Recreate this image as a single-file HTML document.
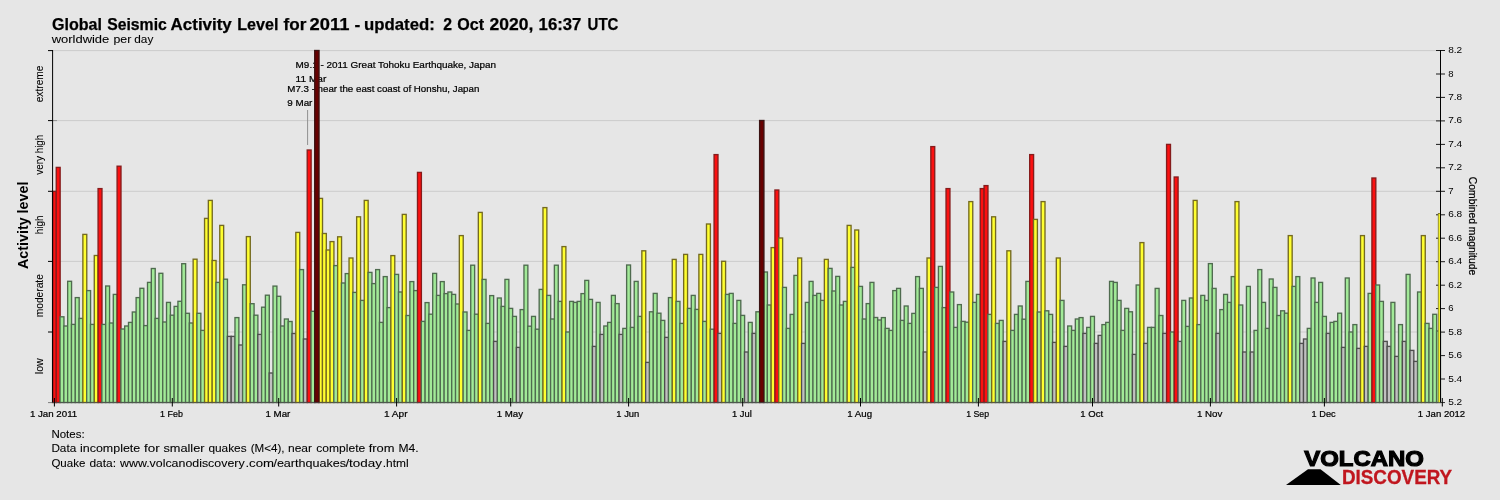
<!DOCTYPE html>
<html lang="en"><head><meta charset="utf-8"><title>Global Seismic Activity Level for 2011</title>
<style>html,body{margin:0;padding:0;background:#e6e6e6;overflow:hidden}svg{display:block}text{font-family:"Liberation Sans",sans-serif;fill:#000}.s{font-size:9.2px;stroke:#000;stroke-width:.22px}.n{font-size:10.4px;stroke:#000;stroke-width:.07px}.t{font-size:9.6px}.l{font-size:11.6px;stroke:#000;stroke-width:.08px}</style></head><body>
<svg width="1500" height="500" viewBox="0 0 1500 500">
<rect width="1500" height="500" fill="#e6e6e6"/>
<g stroke="#cccccc" stroke-width="1">
<line x1="53" y1="50.6" x2="1440" y2="50.6"/>
<line x1="53" y1="120.6" x2="1440" y2="120.6"/>
<line x1="53" y1="191.3" x2="1440" y2="191.3"/>
<line x1="53" y1="261.4" x2="1440" y2="261.4"/>
<line x1="53" y1="332.0" x2="1440" y2="332.0"/>
</g>
<g stroke="#909090" stroke-width="1">
<line x1="53" y1="120.6" x2="57" y2="120.6"/>
<line x1="53" y1="191.3" x2="57" y2="191.3"/>
<line x1="53" y1="261.4" x2="57" y2="261.4"/>
<line x1="53" y1="332.0" x2="57" y2="332.0"/>
</g>
<g stroke="#1a1a1a" stroke-width="1">
<line x1="1436" y1="50.5" x2="1445" y2="50.5"/>
<line x1="1436" y1="74.0" x2="1445" y2="74.0"/>
<line x1="1436" y1="97.4" x2="1445" y2="97.4"/>
<line x1="1436" y1="120.9" x2="1445" y2="120.9"/>
<line x1="1436" y1="144.4" x2="1445" y2="144.4"/>
<line x1="1436" y1="167.8" x2="1445" y2="167.8"/>
<line x1="1436" y1="191.3" x2="1445" y2="191.3"/>
<line x1="1436" y1="214.8" x2="1445" y2="214.8"/>
<line x1="1436" y1="238.2" x2="1445" y2="238.2"/>
<line x1="1436" y1="261.7" x2="1445" y2="261.7"/>
<line x1="1436" y1="285.2" x2="1445" y2="285.2"/>
<line x1="1436" y1="308.6" x2="1445" y2="308.6"/>
<line x1="1436" y1="332.1" x2="1445" y2="332.1"/>
<line x1="1436" y1="355.6" x2="1445" y2="355.6"/>
<line x1="1436" y1="379.0" x2="1445" y2="379.0"/>
<line x1="1436" y1="402.5" x2="1445" y2="402.5"/>
</g>
<g font-size="16.8" font-weight="bold" stroke="#000" stroke-width="0.25">
<text x="52.0" y="30" textLength="50.0" lengthAdjust="spacingAndGlyphs">Global</text>
<text x="107.2" y="30" textLength="59.6" lengthAdjust="spacingAndGlyphs">Seismic</text>
<text x="170.6" y="30" textLength="61.2" lengthAdjust="spacingAndGlyphs">Activity</text>
<text x="237.2" y="30" textLength="41.2" lengthAdjust="spacingAndGlyphs">Level</text>
<text x="283.6" y="30" textLength="22.8" lengthAdjust="spacingAndGlyphs">for</text>
<text x="309.6" y="30" textLength="39.8" lengthAdjust="spacingAndGlyphs">2011</text>
<text x="354.6" y="30" textLength="5.8" lengthAdjust="spacingAndGlyphs">-</text>
<text x="364.0" y="30" textLength="70.8" lengthAdjust="spacingAndGlyphs">updated:</text>
<text x="443.2" y="30" textLength="8.8" lengthAdjust="spacingAndGlyphs">2</text>
<text x="457.2" y="30" textLength="26.8" lengthAdjust="spacingAndGlyphs">Oct</text>
<text x="489.6" y="30" textLength="43.8" lengthAdjust="spacingAndGlyphs">2020,</text>
<text x="538.6" y="30" textLength="42.8" lengthAdjust="spacingAndGlyphs">16:37</text>
<text x="587.6" y="30" textLength="30.8" lengthAdjust="spacingAndGlyphs">UTC</text>
</g>
<text class="l" x="51.7" y="42.8" textLength="57.6" lengthAdjust="spacingAndGlyphs">worldwide</text>
<text class="l" x="113.5" y="42.8" textLength="17.8" lengthAdjust="spacingAndGlyphs">per</text>
<text class="l" x="134.3" y="42.8" textLength="19.0" lengthAdjust="spacingAndGlyphs">day</text>
<text class="s" x="295.6" y="67.6" textLength="200.5" lengthAdjust="spacingAndGlyphs">M9.1 - 2011 Great Tohoku Earthquake, Japan</text>
<text class="s" x="295.6" y="81.5" textLength="30.7" lengthAdjust="spacingAndGlyphs">11 Mar</text>
<text class="s" x="287.3" y="91.6" textLength="192" lengthAdjust="spacingAndGlyphs">M7.3 - near the east coast of Honshu, Japan</text>
<text class="s" x="287.3" y="105.7" textLength="25.1" lengthAdjust="spacingAndGlyphs">9 Mar</text>
<line x1="307.6" y1="110" x2="307.6" y2="145" stroke="#909090" stroke-width="1"/>
<g stroke-width="1.35">
<rect x="52.60" y="191.4" width="3.75" height="211.1" fill="#fc1010" stroke="#861c1c"/>
<rect x="56.25" y="167.4" width="3.90" height="235.1" fill="#fc1010" stroke="#861c1c"/>
<rect x="60.05" y="316.8" width="3.90" height="85.7" fill="#a2ea98" stroke="#4f6b4f"/>
<rect x="63.86" y="326.0" width="3.90" height="76.5" fill="#a2ea98" stroke="#4f6b4f"/>
<rect x="67.66" y="281.3" width="3.90" height="121.2" fill="#a2ea98" stroke="#4f6b4f"/>
<rect x="71.46" y="324.4" width="3.90" height="78.1" fill="#a2ea98" stroke="#4f6b4f"/>
<rect x="75.27" y="297.6" width="3.90" height="104.9" fill="#a2ea98" stroke="#4f6b4f"/>
<rect x="79.07" y="318.4" width="3.90" height="84.1" fill="#a2ea98" stroke="#4f6b4f"/>
<rect x="82.87" y="234.4" width="3.90" height="168.1" fill="#ffff30" stroke="#746a20"/>
<rect x="86.67" y="290.6" width="3.90" height="111.9" fill="#a2ea98" stroke="#4f6b4f"/>
<rect x="90.48" y="324.4" width="3.90" height="78.1" fill="#a2ea98" stroke="#4f6b4f"/>
<rect x="94.28" y="255.5" width="3.90" height="147.0" fill="#ffff30" stroke="#746a20"/>
<rect x="98.08" y="188.6" width="3.90" height="213.9" fill="#fc1010" stroke="#861c1c"/>
<rect x="101.88" y="324.4" width="3.90" height="78.1" fill="#a2ea98" stroke="#4f6b4f"/>
<rect x="105.68" y="286.0" width="3.90" height="116.5" fill="#a2ea98" stroke="#4f6b4f"/>
<rect x="109.49" y="323.0" width="3.90" height="79.5" fill="#a2ea98" stroke="#4f6b4f"/>
<rect x="113.29" y="294.4" width="3.90" height="108.1" fill="#a2ea98" stroke="#4f6b4f"/>
<rect x="117.09" y="166.2" width="3.90" height="236.3" fill="#fc1010" stroke="#861c1c"/>
<rect x="120.89" y="329.0" width="3.90" height="73.5" fill="#a2ea98" stroke="#4f6b4f"/>
<rect x="124.70" y="326.0" width="3.90" height="76.5" fill="#a2ea98" stroke="#4f6b4f"/>
<rect x="128.50" y="322.4" width="3.90" height="80.1" fill="#a2ea98" stroke="#4f6b4f"/>
<rect x="132.30" y="312.0" width="3.90" height="90.5" fill="#a2ea98" stroke="#4f6b4f"/>
<rect x="136.11" y="297.6" width="3.90" height="104.9" fill="#a2ea98" stroke="#4f6b4f"/>
<rect x="139.91" y="288.3" width="3.90" height="114.2" fill="#a2ea98" stroke="#4f6b4f"/>
<rect x="143.71" y="325.6" width="3.90" height="76.9" fill="#a2ea98" stroke="#4f6b4f"/>
<rect x="147.51" y="282.4" width="3.90" height="120.1" fill="#a2ea98" stroke="#4f6b4f"/>
<rect x="151.32" y="268.5" width="3.90" height="134.0" fill="#a2ea98" stroke="#4f6b4f"/>
<rect x="155.12" y="318.4" width="3.90" height="84.1" fill="#a2ea98" stroke="#4f6b4f"/>
<rect x="158.92" y="273.3" width="3.90" height="129.2" fill="#a2ea98" stroke="#4f6b4f"/>
<rect x="162.72" y="322.0" width="3.90" height="80.5" fill="#a2ea98" stroke="#4f6b4f"/>
<rect x="166.53" y="302.4" width="3.90" height="100.1" fill="#a2ea98" stroke="#4f6b4f"/>
<rect x="170.33" y="315.2" width="3.90" height="87.3" fill="#a2ea98" stroke="#4f6b4f"/>
<rect x="174.13" y="306.4" width="3.90" height="96.1" fill="#a2ea98" stroke="#4f6b4f"/>
<rect x="177.93" y="301.3" width="3.90" height="101.2" fill="#a2ea98" stroke="#4f6b4f"/>
<rect x="181.74" y="263.7" width="3.90" height="138.8" fill="#a2ea98" stroke="#4f6b4f"/>
<rect x="185.54" y="313.3" width="3.90" height="89.2" fill="#a2ea98" stroke="#4f6b4f"/>
<rect x="189.34" y="323.0" width="3.90" height="79.5" fill="#a2ea98" stroke="#4f6b4f"/>
<rect x="193.14" y="259.2" width="3.90" height="143.3" fill="#ffff30" stroke="#746a20"/>
<rect x="196.95" y="313.3" width="3.90" height="89.2" fill="#a2ea98" stroke="#4f6b4f"/>
<rect x="200.75" y="330.4" width="3.90" height="72.1" fill="#a2ea98" stroke="#4f6b4f"/>
<rect x="204.55" y="218.4" width="3.90" height="184.1" fill="#ffff30" stroke="#746a20"/>
<rect x="208.35" y="200.4" width="3.90" height="202.1" fill="#ffff30" stroke="#746a20"/>
<rect x="212.16" y="260.5" width="3.90" height="142.0" fill="#ffff30" stroke="#746a20"/>
<rect x="215.96" y="282.4" width="3.90" height="120.1" fill="#a2ea98" stroke="#4f6b4f"/>
<rect x="219.76" y="225.4" width="3.90" height="177.1" fill="#ffff30" stroke="#746a20"/>
<rect x="223.56" y="279.2" width="3.90" height="123.3" fill="#a2ea98" stroke="#4f6b4f"/>
<rect x="227.37" y="336.4" width="3.90" height="66.1" fill="#c0c0c0" stroke="#4e4e4e"/>
<rect x="231.17" y="336.4" width="3.90" height="66.1" fill="#c0c0c0" stroke="#4e4e4e"/>
<rect x="234.97" y="317.6" width="3.90" height="84.9" fill="#a2ea98" stroke="#4f6b4f"/>
<rect x="238.77" y="345.0" width="3.90" height="57.5" fill="#c0c0c0" stroke="#4e4e4e"/>
<rect x="242.58" y="284.8" width="3.90" height="117.7" fill="#a2ea98" stroke="#4f6b4f"/>
<rect x="246.38" y="236.6" width="3.90" height="165.9" fill="#ffff30" stroke="#746a20"/>
<rect x="250.18" y="303.7" width="3.90" height="98.8" fill="#a2ea98" stroke="#4f6b4f"/>
<rect x="253.98" y="315.2" width="3.90" height="87.3" fill="#a2ea98" stroke="#4f6b4f"/>
<rect x="257.79" y="334.4" width="3.90" height="68.1" fill="#c0c0c0" stroke="#4e4e4e"/>
<rect x="261.59" y="307.2" width="3.90" height="95.3" fill="#a2ea98" stroke="#4f6b4f"/>
<rect x="265.39" y="295.2" width="3.90" height="107.3" fill="#a2ea98" stroke="#4f6b4f"/>
<rect x="269.19" y="373.0" width="3.90" height="29.5" fill="#c0c0c0" stroke="#4e4e4e"/>
<rect x="273.00" y="286.1" width="3.90" height="116.4" fill="#a2ea98" stroke="#4f6b4f"/>
<rect x="276.80" y="296.3" width="3.90" height="106.2" fill="#a2ea98" stroke="#4f6b4f"/>
<rect x="280.60" y="326.0" width="3.90" height="76.5" fill="#a2ea98" stroke="#4f6b4f"/>
<rect x="284.40" y="319.0" width="3.90" height="83.5" fill="#a2ea98" stroke="#4f6b4f"/>
<rect x="288.21" y="321.5" width="3.90" height="81.0" fill="#a2ea98" stroke="#4f6b4f"/>
<rect x="292.01" y="333.5" width="3.90" height="69.0" fill="#c0c0c0" stroke="#4e4e4e"/>
<rect x="295.81" y="232.4" width="3.90" height="170.1" fill="#ffff30" stroke="#746a20"/>
<rect x="299.61" y="269.6" width="3.90" height="132.9" fill="#a2ea98" stroke="#4f6b4f"/>
<rect x="303.42" y="339.0" width="3.90" height="63.5" fill="#c0c0c0" stroke="#4e4e4e"/>
<rect x="307.22" y="150.0" width="3.90" height="252.5" fill="#fc1010" stroke="#861c1c"/>
<rect x="311.02" y="311.3" width="3.90" height="91.2" fill="#a2ea98" stroke="#4f6b4f"/>
<rect x="318.62" y="198.4" width="3.90" height="204.1" fill="#ffff30" stroke="#746a20"/>
<rect x="322.43" y="233.5" width="3.90" height="169.0" fill="#ffff30" stroke="#746a20"/>
<rect x="326.23" y="250.0" width="3.90" height="152.5" fill="#ffff30" stroke="#746a20"/>
<rect x="330.03" y="241.6" width="3.90" height="160.9" fill="#ffff30" stroke="#746a20"/>
<rect x="333.83" y="265.6" width="3.90" height="136.9" fill="#a2ea98" stroke="#4f6b4f"/>
<rect x="337.64" y="236.8" width="3.90" height="165.7" fill="#ffff30" stroke="#746a20"/>
<rect x="341.44" y="283.0" width="3.90" height="119.5" fill="#a2ea98" stroke="#4f6b4f"/>
<rect x="345.24" y="273.6" width="3.90" height="128.9" fill="#a2ea98" stroke="#4f6b4f"/>
<rect x="349.05" y="258.0" width="3.90" height="144.5" fill="#ffff30" stroke="#746a20"/>
<rect x="352.85" y="292.4" width="3.90" height="110.1" fill="#a2ea98" stroke="#4f6b4f"/>
<rect x="356.65" y="216.8" width="3.90" height="185.7" fill="#ffff30" stroke="#746a20"/>
<rect x="360.45" y="300.4" width="3.90" height="102.1" fill="#a2ea98" stroke="#4f6b4f"/>
<rect x="364.25" y="200.4" width="3.90" height="202.1" fill="#ffff30" stroke="#746a20"/>
<rect x="368.06" y="272.4" width="3.90" height="130.1" fill="#a2ea98" stroke="#4f6b4f"/>
<rect x="371.86" y="283.6" width="3.90" height="118.9" fill="#a2ea98" stroke="#4f6b4f"/>
<rect x="375.66" y="269.6" width="3.90" height="132.9" fill="#a2ea98" stroke="#4f6b4f"/>
<rect x="379.47" y="322.4" width="3.90" height="80.1" fill="#a2ea98" stroke="#4f6b4f"/>
<rect x="383.27" y="276.6" width="3.90" height="125.9" fill="#a2ea98" stroke="#4f6b4f"/>
<rect x="387.07" y="307.6" width="3.90" height="94.9" fill="#a2ea98" stroke="#4f6b4f"/>
<rect x="390.87" y="255.6" width="3.90" height="146.9" fill="#ffff30" stroke="#746a20"/>
<rect x="394.68" y="274.4" width="3.90" height="128.1" fill="#a2ea98" stroke="#4f6b4f"/>
<rect x="398.48" y="292.0" width="3.90" height="110.5" fill="#a2ea98" stroke="#4f6b4f"/>
<rect x="402.28" y="214.4" width="3.90" height="188.1" fill="#ffff30" stroke="#746a20"/>
<rect x="406.08" y="315.5" width="3.90" height="87.0" fill="#a2ea98" stroke="#4f6b4f"/>
<rect x="409.88" y="281.6" width="3.90" height="120.9" fill="#a2ea98" stroke="#4f6b4f"/>
<rect x="413.69" y="290.6" width="3.90" height="111.9" fill="#a2ea98" stroke="#4f6b4f"/>
<rect x="417.49" y="172.4" width="3.90" height="230.1" fill="#fc1010" stroke="#861c1c"/>
<rect x="421.29" y="321.4" width="3.90" height="81.1" fill="#a2ea98" stroke="#4f6b4f"/>
<rect x="425.10" y="302.6" width="3.90" height="99.9" fill="#a2ea98" stroke="#4f6b4f"/>
<rect x="428.90" y="314.2" width="3.90" height="88.3" fill="#a2ea98" stroke="#4f6b4f"/>
<rect x="432.70" y="273.4" width="3.90" height="129.1" fill="#a2ea98" stroke="#4f6b4f"/>
<rect x="436.50" y="295.4" width="3.90" height="107.1" fill="#a2ea98" stroke="#4f6b4f"/>
<rect x="440.31" y="281.6" width="3.90" height="120.9" fill="#a2ea98" stroke="#4f6b4f"/>
<rect x="444.11" y="293.6" width="3.90" height="108.9" fill="#a2ea98" stroke="#4f6b4f"/>
<rect x="447.91" y="292.0" width="3.90" height="110.5" fill="#a2ea98" stroke="#4f6b4f"/>
<rect x="451.71" y="294.4" width="3.90" height="108.1" fill="#a2ea98" stroke="#4f6b4f"/>
<rect x="455.51" y="304.0" width="3.90" height="98.5" fill="#a2ea98" stroke="#4f6b4f"/>
<rect x="459.32" y="235.6" width="3.90" height="166.9" fill="#ffff30" stroke="#746a20"/>
<rect x="463.12" y="312.0" width="3.90" height="90.5" fill="#a2ea98" stroke="#4f6b4f"/>
<rect x="466.92" y="330.4" width="3.90" height="72.1" fill="#a2ea98" stroke="#4f6b4f"/>
<rect x="470.73" y="265.2" width="3.90" height="137.3" fill="#a2ea98" stroke="#4f6b4f"/>
<rect x="474.53" y="314.2" width="3.90" height="88.3" fill="#a2ea98" stroke="#4f6b4f"/>
<rect x="478.33" y="212.4" width="3.90" height="190.1" fill="#ffff30" stroke="#746a20"/>
<rect x="482.13" y="279.4" width="3.90" height="123.1" fill="#a2ea98" stroke="#4f6b4f"/>
<rect x="485.94" y="323.4" width="3.90" height="79.1" fill="#a2ea98" stroke="#4f6b4f"/>
<rect x="489.74" y="295.6" width="3.90" height="106.9" fill="#a2ea98" stroke="#4f6b4f"/>
<rect x="493.54" y="341.4" width="3.90" height="61.1" fill="#c0c0c0" stroke="#4e4e4e"/>
<rect x="497.34" y="298.0" width="3.90" height="104.5" fill="#a2ea98" stroke="#4f6b4f"/>
<rect x="501.15" y="306.4" width="3.90" height="96.1" fill="#a2ea98" stroke="#4f6b4f"/>
<rect x="504.95" y="279.4" width="3.90" height="123.1" fill="#a2ea98" stroke="#4f6b4f"/>
<rect x="508.75" y="308.4" width="3.90" height="94.1" fill="#a2ea98" stroke="#4f6b4f"/>
<rect x="512.55" y="316.4" width="3.90" height="86.1" fill="#a2ea98" stroke="#4f6b4f"/>
<rect x="516.36" y="347.4" width="3.90" height="55.1" fill="#c0c0c0" stroke="#4e4e4e"/>
<rect x="520.16" y="309.6" width="3.90" height="92.9" fill="#a2ea98" stroke="#4f6b4f"/>
<rect x="523.96" y="265.2" width="3.90" height="137.3" fill="#a2ea98" stroke="#4f6b4f"/>
<rect x="527.76" y="326.2" width="3.90" height="76.3" fill="#a2ea98" stroke="#4f6b4f"/>
<rect x="531.56" y="316.4" width="3.90" height="86.1" fill="#a2ea98" stroke="#4f6b4f"/>
<rect x="535.37" y="329.2" width="3.90" height="73.3" fill="#a2ea98" stroke="#4f6b4f"/>
<rect x="539.17" y="289.4" width="3.90" height="113.1" fill="#a2ea98" stroke="#4f6b4f"/>
<rect x="542.97" y="207.6" width="3.90" height="194.9" fill="#ffff30" stroke="#746a20"/>
<rect x="546.77" y="295.4" width="3.90" height="107.1" fill="#a2ea98" stroke="#4f6b4f"/>
<rect x="550.58" y="319.0" width="3.90" height="83.5" fill="#a2ea98" stroke="#4f6b4f"/>
<rect x="554.38" y="265.2" width="3.90" height="137.3" fill="#a2ea98" stroke="#4f6b4f"/>
<rect x="558.18" y="301.4" width="3.90" height="101.1" fill="#a2ea98" stroke="#4f6b4f"/>
<rect x="561.99" y="246.6" width="3.90" height="155.9" fill="#ffff30" stroke="#746a20"/>
<rect x="565.79" y="332.0" width="3.90" height="70.5" fill="#a2ea98" stroke="#4f6b4f"/>
<rect x="569.59" y="301.4" width="3.90" height="101.1" fill="#a2ea98" stroke="#4f6b4f"/>
<rect x="573.39" y="302.4" width="3.90" height="100.1" fill="#a2ea98" stroke="#4f6b4f"/>
<rect x="577.19" y="301.4" width="3.90" height="101.1" fill="#a2ea98" stroke="#4f6b4f"/>
<rect x="581.00" y="293.6" width="3.90" height="108.9" fill="#a2ea98" stroke="#4f6b4f"/>
<rect x="584.80" y="280.4" width="3.90" height="122.1" fill="#a2ea98" stroke="#4f6b4f"/>
<rect x="588.60" y="299.4" width="3.90" height="103.1" fill="#a2ea98" stroke="#4f6b4f"/>
<rect x="592.40" y="346.4" width="3.90" height="56.1" fill="#c0c0c0" stroke="#4e4e4e"/>
<rect x="596.21" y="302.4" width="3.90" height="100.1" fill="#a2ea98" stroke="#4f6b4f"/>
<rect x="600.01" y="334.4" width="3.90" height="68.1" fill="#c0c0c0" stroke="#4e4e4e"/>
<rect x="603.81" y="326.0" width="3.90" height="76.5" fill="#a2ea98" stroke="#4f6b4f"/>
<rect x="607.62" y="322.4" width="3.90" height="80.1" fill="#a2ea98" stroke="#4f6b4f"/>
<rect x="611.42" y="295.4" width="3.90" height="107.1" fill="#a2ea98" stroke="#4f6b4f"/>
<rect x="615.22" y="303.6" width="3.90" height="98.9" fill="#a2ea98" stroke="#4f6b4f"/>
<rect x="619.02" y="334.4" width="3.90" height="68.1" fill="#c0c0c0" stroke="#4e4e4e"/>
<rect x="622.82" y="328.4" width="3.90" height="74.1" fill="#a2ea98" stroke="#4f6b4f"/>
<rect x="626.63" y="265.0" width="3.90" height="137.5" fill="#a2ea98" stroke="#4f6b4f"/>
<rect x="630.43" y="327.4" width="3.90" height="75.1" fill="#a2ea98" stroke="#4f6b4f"/>
<rect x="634.23" y="281.4" width="3.90" height="121.1" fill="#a2ea98" stroke="#4f6b4f"/>
<rect x="638.03" y="316.4" width="3.90" height="86.1" fill="#a2ea98" stroke="#4f6b4f"/>
<rect x="641.84" y="250.8" width="3.90" height="151.7" fill="#ffff30" stroke="#746a20"/>
<rect x="645.64" y="362.4" width="3.90" height="40.1" fill="#c0c0c0" stroke="#4e4e4e"/>
<rect x="649.44" y="311.8" width="3.90" height="90.7" fill="#a2ea98" stroke="#4f6b4f"/>
<rect x="653.25" y="293.4" width="3.90" height="109.1" fill="#a2ea98" stroke="#4f6b4f"/>
<rect x="657.05" y="313.2" width="3.90" height="89.3" fill="#a2ea98" stroke="#4f6b4f"/>
<rect x="660.85" y="320.4" width="3.90" height="82.1" fill="#a2ea98" stroke="#4f6b4f"/>
<rect x="664.65" y="337.4" width="3.90" height="65.1" fill="#c0c0c0" stroke="#4e4e4e"/>
<rect x="668.45" y="297.6" width="3.90" height="104.9" fill="#a2ea98" stroke="#4f6b4f"/>
<rect x="672.26" y="259.4" width="3.90" height="143.1" fill="#ffff30" stroke="#746a20"/>
<rect x="676.06" y="301.4" width="3.90" height="101.1" fill="#a2ea98" stroke="#4f6b4f"/>
<rect x="679.86" y="323.4" width="3.90" height="79.1" fill="#a2ea98" stroke="#4f6b4f"/>
<rect x="683.66" y="254.4" width="3.90" height="148.1" fill="#ffff30" stroke="#746a20"/>
<rect x="687.47" y="308.4" width="3.90" height="94.1" fill="#a2ea98" stroke="#4f6b4f"/>
<rect x="691.27" y="295.4" width="3.90" height="107.1" fill="#a2ea98" stroke="#4f6b4f"/>
<rect x="695.07" y="309.4" width="3.90" height="93.1" fill="#a2ea98" stroke="#4f6b4f"/>
<rect x="698.88" y="254.4" width="3.90" height="148.1" fill="#ffff30" stroke="#746a20"/>
<rect x="702.68" y="321.4" width="3.90" height="81.1" fill="#a2ea98" stroke="#4f6b4f"/>
<rect x="706.48" y="224.0" width="3.90" height="178.5" fill="#ffff30" stroke="#746a20"/>
<rect x="710.28" y="329.2" width="3.90" height="73.3" fill="#a2ea98" stroke="#4f6b4f"/>
<rect x="714.08" y="154.6" width="3.90" height="247.9" fill="#fc1010" stroke="#861c1c"/>
<rect x="717.89" y="333.4" width="3.90" height="69.1" fill="#c0c0c0" stroke="#4e4e4e"/>
<rect x="721.69" y="261.3" width="3.90" height="141.2" fill="#ffff30" stroke="#746a20"/>
<rect x="725.49" y="294.4" width="3.90" height="108.1" fill="#a2ea98" stroke="#4f6b4f"/>
<rect x="729.29" y="293.4" width="3.90" height="109.1" fill="#a2ea98" stroke="#4f6b4f"/>
<rect x="733.10" y="323.4" width="3.90" height="79.1" fill="#a2ea98" stroke="#4f6b4f"/>
<rect x="736.90" y="300.4" width="3.90" height="102.1" fill="#a2ea98" stroke="#4f6b4f"/>
<rect x="740.70" y="315.4" width="3.90" height="87.1" fill="#a2ea98" stroke="#4f6b4f"/>
<rect x="744.50" y="352.0" width="3.90" height="50.5" fill="#c0c0c0" stroke="#4e4e4e"/>
<rect x="748.31" y="322.4" width="3.90" height="80.1" fill="#a2ea98" stroke="#4f6b4f"/>
<rect x="752.11" y="333.4" width="3.90" height="69.1" fill="#c0c0c0" stroke="#4e4e4e"/>
<rect x="755.91" y="311.8" width="3.90" height="90.7" fill="#a2ea98" stroke="#4f6b4f"/>
<rect x="763.52" y="272.0" width="3.90" height="130.5" fill="#a2ea98" stroke="#4f6b4f"/>
<rect x="767.32" y="305.0" width="3.90" height="97.5" fill="#a2ea98" stroke="#4f6b4f"/>
<rect x="771.12" y="247.6" width="3.90" height="154.9" fill="#ffff30" stroke="#746a20"/>
<rect x="774.92" y="190.0" width="3.90" height="212.5" fill="#fc1010" stroke="#861c1c"/>
<rect x="778.73" y="238.0" width="3.90" height="164.5" fill="#ffff30" stroke="#746a20"/>
<rect x="782.53" y="287.4" width="3.90" height="115.1" fill="#a2ea98" stroke="#4f6b4f"/>
<rect x="786.33" y="328.4" width="3.90" height="74.1" fill="#a2ea98" stroke="#4f6b4f"/>
<rect x="790.13" y="314.4" width="3.90" height="88.1" fill="#a2ea98" stroke="#4f6b4f"/>
<rect x="793.94" y="275.4" width="3.90" height="127.1" fill="#a2ea98" stroke="#4f6b4f"/>
<rect x="797.74" y="258.0" width="3.90" height="144.5" fill="#ffff30" stroke="#746a20"/>
<rect x="801.54" y="343.4" width="3.90" height="59.1" fill="#c0c0c0" stroke="#4e4e4e"/>
<rect x="805.35" y="302.4" width="3.90" height="100.1" fill="#a2ea98" stroke="#4f6b4f"/>
<rect x="809.15" y="281.4" width="3.90" height="121.1" fill="#a2ea98" stroke="#4f6b4f"/>
<rect x="812.95" y="295.4" width="3.90" height="107.1" fill="#a2ea98" stroke="#4f6b4f"/>
<rect x="816.75" y="293.4" width="3.90" height="109.1" fill="#a2ea98" stroke="#4f6b4f"/>
<rect x="820.55" y="300.4" width="3.90" height="102.1" fill="#a2ea98" stroke="#4f6b4f"/>
<rect x="824.36" y="259.4" width="3.90" height="143.1" fill="#ffff30" stroke="#746a20"/>
<rect x="828.16" y="268.4" width="3.90" height="134.1" fill="#a2ea98" stroke="#4f6b4f"/>
<rect x="831.96" y="291.0" width="3.90" height="111.5" fill="#a2ea98" stroke="#4f6b4f"/>
<rect x="835.76" y="276.4" width="3.90" height="126.1" fill="#a2ea98" stroke="#4f6b4f"/>
<rect x="839.57" y="305.0" width="3.90" height="97.5" fill="#a2ea98" stroke="#4f6b4f"/>
<rect x="843.37" y="301.4" width="3.90" height="101.1" fill="#a2ea98" stroke="#4f6b4f"/>
<rect x="847.17" y="225.4" width="3.90" height="177.1" fill="#ffff30" stroke="#746a20"/>
<rect x="850.98" y="267.4" width="3.90" height="135.1" fill="#a2ea98" stroke="#4f6b4f"/>
<rect x="854.78" y="230.0" width="3.90" height="172.5" fill="#ffff30" stroke="#746a20"/>
<rect x="858.58" y="286.4" width="3.90" height="116.1" fill="#a2ea98" stroke="#4f6b4f"/>
<rect x="862.38" y="319.0" width="3.90" height="83.5" fill="#a2ea98" stroke="#4f6b4f"/>
<rect x="866.18" y="303.6" width="3.90" height="98.9" fill="#a2ea98" stroke="#4f6b4f"/>
<rect x="869.99" y="282.4" width="3.90" height="120.1" fill="#a2ea98" stroke="#4f6b4f"/>
<rect x="873.79" y="317.5" width="3.90" height="85.0" fill="#a2ea98" stroke="#4f6b4f"/>
<rect x="877.59" y="320.0" width="3.90" height="82.5" fill="#a2ea98" stroke="#4f6b4f"/>
<rect x="881.39" y="317.6" width="3.90" height="84.9" fill="#a2ea98" stroke="#4f6b4f"/>
<rect x="885.20" y="328.4" width="3.90" height="74.1" fill="#a2ea98" stroke="#4f6b4f"/>
<rect x="889.00" y="330.4" width="3.90" height="72.1" fill="#a2ea98" stroke="#4f6b4f"/>
<rect x="892.80" y="290.6" width="3.90" height="111.9" fill="#a2ea98" stroke="#4f6b4f"/>
<rect x="896.61" y="288.4" width="3.90" height="114.1" fill="#a2ea98" stroke="#4f6b4f"/>
<rect x="900.41" y="320.4" width="3.90" height="82.1" fill="#a2ea98" stroke="#4f6b4f"/>
<rect x="904.21" y="306.0" width="3.90" height="96.5" fill="#a2ea98" stroke="#4f6b4f"/>
<rect x="908.01" y="323.4" width="3.90" height="79.1" fill="#a2ea98" stroke="#4f6b4f"/>
<rect x="911.81" y="313.4" width="3.90" height="89.1" fill="#a2ea98" stroke="#4f6b4f"/>
<rect x="915.62" y="276.6" width="3.90" height="125.9" fill="#a2ea98" stroke="#4f6b4f"/>
<rect x="919.42" y="288.4" width="3.90" height="114.1" fill="#a2ea98" stroke="#4f6b4f"/>
<rect x="923.22" y="352.0" width="3.90" height="50.5" fill="#c0c0c0" stroke="#4e4e4e"/>
<rect x="927.02" y="258.0" width="3.90" height="144.5" fill="#ffff30" stroke="#746a20"/>
<rect x="930.83" y="146.6" width="3.90" height="255.9" fill="#fc1010" stroke="#861c1c"/>
<rect x="934.63" y="287.4" width="3.90" height="115.1" fill="#a2ea98" stroke="#4f6b4f"/>
<rect x="938.43" y="266.4" width="3.90" height="136.1" fill="#a2ea98" stroke="#4f6b4f"/>
<rect x="942.24" y="307.6" width="3.90" height="94.9" fill="#a2ea98" stroke="#4f6b4f"/>
<rect x="946.04" y="188.6" width="3.90" height="213.9" fill="#fc1010" stroke="#861c1c"/>
<rect x="949.84" y="292.0" width="3.90" height="110.5" fill="#a2ea98" stroke="#4f6b4f"/>
<rect x="953.64" y="327.4" width="3.90" height="75.1" fill="#a2ea98" stroke="#4f6b4f"/>
<rect x="957.44" y="304.6" width="3.90" height="97.9" fill="#a2ea98" stroke="#4f6b4f"/>
<rect x="961.25" y="321.4" width="3.90" height="81.1" fill="#a2ea98" stroke="#4f6b4f"/>
<rect x="965.05" y="322.2" width="3.90" height="80.3" fill="#a2ea98" stroke="#4f6b4f"/>
<rect x="968.85" y="201.6" width="3.90" height="200.9" fill="#ffff30" stroke="#746a20"/>
<rect x="972.65" y="302.4" width="3.90" height="100.1" fill="#a2ea98" stroke="#4f6b4f"/>
<rect x="976.46" y="294.4" width="3.90" height="108.1" fill="#a2ea98" stroke="#4f6b4f"/>
<rect x="980.26" y="188.6" width="3.90" height="213.9" fill="#fc1010" stroke="#861c1c"/>
<rect x="984.06" y="185.6" width="3.90" height="216.9" fill="#fc1010" stroke="#861c1c"/>
<rect x="987.87" y="314.4" width="3.90" height="88.1" fill="#a2ea98" stroke="#4f6b4f"/>
<rect x="991.67" y="216.8" width="3.90" height="185.7" fill="#ffff30" stroke="#746a20"/>
<rect x="995.47" y="323.4" width="3.90" height="79.1" fill="#a2ea98" stroke="#4f6b4f"/>
<rect x="999.27" y="320.4" width="3.90" height="82.1" fill="#a2ea98" stroke="#4f6b4f"/>
<rect x="1003.07" y="341.4" width="3.90" height="61.1" fill="#c0c0c0" stroke="#4e4e4e"/>
<rect x="1006.88" y="250.8" width="3.90" height="151.7" fill="#ffff30" stroke="#746a20"/>
<rect x="1010.68" y="330.4" width="3.90" height="72.1" fill="#a2ea98" stroke="#4f6b4f"/>
<rect x="1014.48" y="314.4" width="3.90" height="88.1" fill="#a2ea98" stroke="#4f6b4f"/>
<rect x="1018.28" y="306.0" width="3.90" height="96.5" fill="#a2ea98" stroke="#4f6b4f"/>
<rect x="1022.09" y="319.2" width="3.90" height="83.3" fill="#a2ea98" stroke="#4f6b4f"/>
<rect x="1025.89" y="281.4" width="3.90" height="121.1" fill="#a2ea98" stroke="#4f6b4f"/>
<rect x="1029.69" y="154.6" width="3.90" height="247.9" fill="#fc1010" stroke="#861c1c"/>
<rect x="1033.50" y="219.4" width="3.90" height="183.1" fill="#ffff30" stroke="#746a20"/>
<rect x="1037.30" y="312.0" width="3.90" height="90.5" fill="#a2ea98" stroke="#4f6b4f"/>
<rect x="1041.10" y="201.6" width="3.90" height="200.9" fill="#ffff30" stroke="#746a20"/>
<rect x="1044.90" y="310.8" width="3.90" height="91.7" fill="#a2ea98" stroke="#4f6b4f"/>
<rect x="1048.71" y="314.4" width="3.90" height="88.1" fill="#a2ea98" stroke="#4f6b4f"/>
<rect x="1052.51" y="342.4" width="3.90" height="60.1" fill="#c0c0c0" stroke="#4e4e4e"/>
<rect x="1056.31" y="258.0" width="3.90" height="144.5" fill="#ffff30" stroke="#746a20"/>
<rect x="1060.11" y="300.4" width="3.90" height="102.1" fill="#a2ea98" stroke="#4f6b4f"/>
<rect x="1063.91" y="346.4" width="3.90" height="56.1" fill="#c0c0c0" stroke="#4e4e4e"/>
<rect x="1067.72" y="326.0" width="3.90" height="76.5" fill="#a2ea98" stroke="#4f6b4f"/>
<rect x="1071.52" y="330.4" width="3.90" height="72.1" fill="#a2ea98" stroke="#4f6b4f"/>
<rect x="1075.32" y="319.0" width="3.90" height="83.5" fill="#a2ea98" stroke="#4f6b4f"/>
<rect x="1079.12" y="317.6" width="3.90" height="84.9" fill="#a2ea98" stroke="#4f6b4f"/>
<rect x="1082.93" y="333.4" width="3.90" height="69.1" fill="#c0c0c0" stroke="#4e4e4e"/>
<rect x="1086.73" y="327.4" width="3.90" height="75.1" fill="#a2ea98" stroke="#4f6b4f"/>
<rect x="1090.53" y="316.4" width="3.90" height="86.1" fill="#a2ea98" stroke="#4f6b4f"/>
<rect x="1094.34" y="343.4" width="3.90" height="59.1" fill="#c0c0c0" stroke="#4e4e4e"/>
<rect x="1098.14" y="335.4" width="3.90" height="67.1" fill="#c0c0c0" stroke="#4e4e4e"/>
<rect x="1101.94" y="324.6" width="3.90" height="77.9" fill="#a2ea98" stroke="#4f6b4f"/>
<rect x="1105.74" y="322.4" width="3.90" height="80.1" fill="#a2ea98" stroke="#4f6b4f"/>
<rect x="1109.55" y="281.4" width="3.90" height="121.1" fill="#a2ea98" stroke="#4f6b4f"/>
<rect x="1113.35" y="282.4" width="3.90" height="120.1" fill="#a2ea98" stroke="#4f6b4f"/>
<rect x="1117.15" y="300.4" width="3.90" height="102.1" fill="#a2ea98" stroke="#4f6b4f"/>
<rect x="1120.95" y="330.4" width="3.90" height="72.1" fill="#a2ea98" stroke="#4f6b4f"/>
<rect x="1124.76" y="308.4" width="3.90" height="94.1" fill="#a2ea98" stroke="#4f6b4f"/>
<rect x="1128.56" y="311.8" width="3.90" height="90.7" fill="#a2ea98" stroke="#4f6b4f"/>
<rect x="1132.36" y="354.4" width="3.90" height="48.1" fill="#c0c0c0" stroke="#4e4e4e"/>
<rect x="1136.16" y="285.0" width="3.90" height="117.5" fill="#a2ea98" stroke="#4f6b4f"/>
<rect x="1139.97" y="242.6" width="3.90" height="159.9" fill="#ffff30" stroke="#746a20"/>
<rect x="1143.77" y="343.4" width="3.90" height="59.1" fill="#c0c0c0" stroke="#4e4e4e"/>
<rect x="1147.57" y="327.4" width="3.90" height="75.1" fill="#a2ea98" stroke="#4f6b4f"/>
<rect x="1151.37" y="327.4" width="3.90" height="75.1" fill="#a2ea98" stroke="#4f6b4f"/>
<rect x="1155.18" y="288.4" width="3.90" height="114.1" fill="#a2ea98" stroke="#4f6b4f"/>
<rect x="1158.98" y="315.5" width="3.90" height="87.0" fill="#a2ea98" stroke="#4f6b4f"/>
<rect x="1162.78" y="333.4" width="3.90" height="69.1" fill="#c0c0c0" stroke="#4e4e4e"/>
<rect x="1166.58" y="144.4" width="3.90" height="258.1" fill="#fc1010" stroke="#861c1c"/>
<rect x="1170.39" y="332.0" width="3.90" height="70.5" fill="#a2ea98" stroke="#4f6b4f"/>
<rect x="1174.19" y="177.0" width="3.90" height="225.5" fill="#fc1010" stroke="#861c1c"/>
<rect x="1177.99" y="341.4" width="3.90" height="61.1" fill="#c0c0c0" stroke="#4e4e4e"/>
<rect x="1181.79" y="300.4" width="3.90" height="102.1" fill="#a2ea98" stroke="#4f6b4f"/>
<rect x="1185.60" y="326.4" width="3.90" height="76.1" fill="#a2ea98" stroke="#4f6b4f"/>
<rect x="1189.40" y="298.0" width="3.90" height="104.5" fill="#a2ea98" stroke="#4f6b4f"/>
<rect x="1193.20" y="200.4" width="3.90" height="202.1" fill="#ffff30" stroke="#746a20"/>
<rect x="1197.00" y="324.6" width="3.90" height="77.9" fill="#a2ea98" stroke="#4f6b4f"/>
<rect x="1200.81" y="295.4" width="3.90" height="107.1" fill="#a2ea98" stroke="#4f6b4f"/>
<rect x="1204.61" y="300.4" width="3.90" height="102.1" fill="#a2ea98" stroke="#4f6b4f"/>
<rect x="1208.41" y="263.6" width="3.90" height="138.9" fill="#a2ea98" stroke="#4f6b4f"/>
<rect x="1212.21" y="288.4" width="3.90" height="114.1" fill="#a2ea98" stroke="#4f6b4f"/>
<rect x="1216.02" y="333.4" width="3.90" height="69.1" fill="#c0c0c0" stroke="#4e4e4e"/>
<rect x="1219.82" y="309.6" width="3.90" height="92.9" fill="#a2ea98" stroke="#4f6b4f"/>
<rect x="1223.62" y="294.4" width="3.90" height="108.1" fill="#a2ea98" stroke="#4f6b4f"/>
<rect x="1227.42" y="302.4" width="3.90" height="100.1" fill="#a2ea98" stroke="#4f6b4f"/>
<rect x="1231.23" y="276.6" width="3.90" height="125.9" fill="#a2ea98" stroke="#4f6b4f"/>
<rect x="1235.03" y="201.6" width="3.90" height="200.9" fill="#ffff30" stroke="#746a20"/>
<rect x="1238.83" y="305.0" width="3.90" height="97.5" fill="#a2ea98" stroke="#4f6b4f"/>
<rect x="1242.63" y="352.0" width="3.90" height="50.5" fill="#c0c0c0" stroke="#4e4e4e"/>
<rect x="1246.44" y="286.4" width="3.90" height="116.1" fill="#a2ea98" stroke="#4f6b4f"/>
<rect x="1250.24" y="352.0" width="3.90" height="50.5" fill="#c0c0c0" stroke="#4e4e4e"/>
<rect x="1254.04" y="330.4" width="3.90" height="72.1" fill="#a2ea98" stroke="#4f6b4f"/>
<rect x="1257.84" y="269.6" width="3.90" height="132.9" fill="#a2ea98" stroke="#4f6b4f"/>
<rect x="1261.65" y="302.4" width="3.90" height="100.1" fill="#a2ea98" stroke="#4f6b4f"/>
<rect x="1265.45" y="328.4" width="3.90" height="74.1" fill="#a2ea98" stroke="#4f6b4f"/>
<rect x="1269.25" y="279.0" width="3.90" height="123.5" fill="#a2ea98" stroke="#4f6b4f"/>
<rect x="1273.05" y="287.4" width="3.90" height="115.1" fill="#a2ea98" stroke="#4f6b4f"/>
<rect x="1276.86" y="315.5" width="3.90" height="87.0" fill="#a2ea98" stroke="#4f6b4f"/>
<rect x="1280.66" y="310.8" width="3.90" height="91.7" fill="#a2ea98" stroke="#4f6b4f"/>
<rect x="1284.46" y="313.2" width="3.90" height="89.3" fill="#a2ea98" stroke="#4f6b4f"/>
<rect x="1288.26" y="235.6" width="3.90" height="166.9" fill="#ffff30" stroke="#746a20"/>
<rect x="1292.07" y="286.4" width="3.90" height="116.1" fill="#a2ea98" stroke="#4f6b4f"/>
<rect x="1295.87" y="276.6" width="3.90" height="125.9" fill="#a2ea98" stroke="#4f6b4f"/>
<rect x="1299.67" y="343.4" width="3.90" height="59.1" fill="#c0c0c0" stroke="#4e4e4e"/>
<rect x="1303.47" y="339.0" width="3.90" height="63.5" fill="#c0c0c0" stroke="#4e4e4e"/>
<rect x="1307.28" y="328.4" width="3.90" height="74.1" fill="#a2ea98" stroke="#4f6b4f"/>
<rect x="1311.08" y="278.0" width="3.90" height="124.5" fill="#a2ea98" stroke="#4f6b4f"/>
<rect x="1314.88" y="302.4" width="3.90" height="100.1" fill="#a2ea98" stroke="#4f6b4f"/>
<rect x="1318.68" y="282.4" width="3.90" height="120.1" fill="#a2ea98" stroke="#4f6b4f"/>
<rect x="1322.49" y="316.4" width="3.90" height="86.1" fill="#a2ea98" stroke="#4f6b4f"/>
<rect x="1326.29" y="333.4" width="3.90" height="69.1" fill="#c0c0c0" stroke="#4e4e4e"/>
<rect x="1330.09" y="322.4" width="3.90" height="80.1" fill="#a2ea98" stroke="#4f6b4f"/>
<rect x="1333.89" y="321.4" width="3.90" height="81.1" fill="#a2ea98" stroke="#4f6b4f"/>
<rect x="1337.70" y="313.2" width="3.90" height="89.3" fill="#a2ea98" stroke="#4f6b4f"/>
<rect x="1341.50" y="347.4" width="3.90" height="55.1" fill="#c0c0c0" stroke="#4e4e4e"/>
<rect x="1345.30" y="278.0" width="3.90" height="124.5" fill="#a2ea98" stroke="#4f6b4f"/>
<rect x="1349.10" y="332.0" width="3.90" height="70.5" fill="#a2ea98" stroke="#4f6b4f"/>
<rect x="1352.91" y="324.6" width="3.90" height="77.9" fill="#a2ea98" stroke="#4f6b4f"/>
<rect x="1356.71" y="348.4" width="3.90" height="54.1" fill="#c0c0c0" stroke="#4e4e4e"/>
<rect x="1360.51" y="235.6" width="3.90" height="166.9" fill="#ffff30" stroke="#746a20"/>
<rect x="1364.31" y="346.4" width="3.90" height="56.1" fill="#c0c0c0" stroke="#4e4e4e"/>
<rect x="1368.12" y="293.4" width="3.90" height="109.1" fill="#a2ea98" stroke="#4f6b4f"/>
<rect x="1371.92" y="178.0" width="3.90" height="224.5" fill="#fc1010" stroke="#861c1c"/>
<rect x="1375.72" y="285.0" width="3.90" height="117.5" fill="#a2ea98" stroke="#4f6b4f"/>
<rect x="1379.52" y="301.4" width="3.90" height="101.1" fill="#a2ea98" stroke="#4f6b4f"/>
<rect x="1383.33" y="341.4" width="3.90" height="61.1" fill="#c0c0c0" stroke="#4e4e4e"/>
<rect x="1387.13" y="346.4" width="3.90" height="56.1" fill="#c0c0c0" stroke="#4e4e4e"/>
<rect x="1390.93" y="302.4" width="3.90" height="100.1" fill="#a2ea98" stroke="#4f6b4f"/>
<rect x="1394.73" y="356.4" width="3.90" height="46.1" fill="#c0c0c0" stroke="#4e4e4e"/>
<rect x="1398.54" y="324.6" width="3.90" height="77.9" fill="#a2ea98" stroke="#4f6b4f"/>
<rect x="1402.34" y="341.4" width="3.90" height="61.1" fill="#c0c0c0" stroke="#4e4e4e"/>
<rect x="1406.14" y="274.4" width="3.90" height="128.1" fill="#a2ea98" stroke="#4f6b4f"/>
<rect x="1409.94" y="350.4" width="3.90" height="52.1" fill="#c0c0c0" stroke="#4e4e4e"/>
<rect x="1413.75" y="361.4" width="3.90" height="41.1" fill="#c0c0c0" stroke="#4e4e4e"/>
<rect x="1417.55" y="292.0" width="3.90" height="110.5" fill="#a2ea98" stroke="#4f6b4f"/>
<rect x="1421.35" y="235.6" width="3.90" height="166.9" fill="#ffff30" stroke="#746a20"/>
<rect x="1425.15" y="323.4" width="3.90" height="79.1" fill="#a2ea98" stroke="#4f6b4f"/>
<rect x="1428.96" y="328.4" width="3.90" height="74.1" fill="#a2ea98" stroke="#4f6b4f"/>
<rect x="1432.76" y="314.3" width="3.90" height="88.2" fill="#a2ea98" stroke="#4f6b4f"/>
<rect x="1436.56" y="331.0" width="3.90" height="71.5" fill="#a2ea98" stroke="#4f6b4f"/>
<rect x="314.72" y="50.5" width="4.3" height="352.0" fill="#680000" stroke="#3a1212"/>
<rect x="759.62" y="120.5" width="4.3" height="282.0" fill="#680000" stroke="#3a1212"/>
<rect x="1438.1" y="213.3" width="2.4" height="189.2" fill="#f2f22c" stroke="none"/>
<line x1="1438.3" y1="213.3" x2="1438.3" y2="402.5" stroke="#746a20" stroke-width="0.7"/>
<line x1="1438" y1="213.5" x2="1440.5" y2="213.5" stroke="#746a20" stroke-width="0.8"/>
</g>
<g stroke="#000" stroke-width="1">
<line x1="52.6" y1="50.1" x2="52.6" y2="403"/>
<line x1="1440.5" y1="50" x2="1440.5" y2="403"/>
</g>
<line x1="48" y1="402.6" x2="1445" y2="402.6" stroke="#505050" stroke-width="0.7"/>
<g stroke="#000" stroke-width="1">
<line x1="48" y1="50.6" x2="53" y2="50.6"/>
<line x1="48" y1="120.6" x2="53" y2="120.6"/>
<line x1="48" y1="191.3" x2="53" y2="191.3"/>
<line x1="48" y1="261.4" x2="53" y2="261.4"/>
<line x1="48" y1="332.0" x2="53" y2="332.0"/>
</g>
<text class="t" x="1448.2" y="53.0" textLength="14" lengthAdjust="spacingAndGlyphs">8.2</text>
<text class="t" x="1448.2" y="76.5" textLength="5.3" lengthAdjust="spacingAndGlyphs">8</text>
<text class="t" x="1448.2" y="99.9" textLength="14" lengthAdjust="spacingAndGlyphs">7.8</text>
<text class="t" x="1448.2" y="123.4" textLength="14" lengthAdjust="spacingAndGlyphs">7.6</text>
<text class="t" x="1448.2" y="146.9" textLength="14" lengthAdjust="spacingAndGlyphs">7.4</text>
<text class="t" x="1448.2" y="170.3" textLength="14" lengthAdjust="spacingAndGlyphs">7.2</text>
<text class="t" x="1448.2" y="193.8" textLength="5.3" lengthAdjust="spacingAndGlyphs">7</text>
<text class="t" x="1448.2" y="217.3" textLength="14" lengthAdjust="spacingAndGlyphs">6.8</text>
<text class="t" x="1448.2" y="240.7" textLength="14" lengthAdjust="spacingAndGlyphs">6.6</text>
<text class="t" x="1448.2" y="264.2" textLength="14" lengthAdjust="spacingAndGlyphs">6.4</text>
<text class="t" x="1448.2" y="287.7" textLength="14" lengthAdjust="spacingAndGlyphs">6.2</text>
<text class="t" x="1448.2" y="311.1" textLength="5.3" lengthAdjust="spacingAndGlyphs">6</text>
<text class="t" x="1448.2" y="334.6" textLength="14" lengthAdjust="spacingAndGlyphs">5.8</text>
<text class="t" x="1448.2" y="358.1" textLength="14" lengthAdjust="spacingAndGlyphs">5.6</text>
<text class="t" x="1448.2" y="381.5" textLength="14" lengthAdjust="spacingAndGlyphs">5.4</text>
<text class="t" x="1448.2" y="405.0" textLength="14" lengthAdjust="spacingAndGlyphs">5.2</text>
<g stroke="#000" stroke-width="1">
<line x1="54.4" y1="398" x2="54.4" y2="406.5"/>
<line x1="172.3" y1="398" x2="172.3" y2="406.5"/>
<line x1="278.7" y1="398" x2="278.7" y2="406.5"/>
<line x1="396.6" y1="398" x2="396.6" y2="406.5"/>
<line x1="510.7" y1="398" x2="510.7" y2="406.5"/>
<line x1="628.6" y1="398" x2="628.6" y2="406.5"/>
<line x1="742.7" y1="398" x2="742.7" y2="406.5"/>
<line x1="860.5" y1="398" x2="860.5" y2="406.5"/>
<line x1="978.4" y1="398" x2="978.4" y2="406.5"/>
<line x1="1092.5" y1="398" x2="1092.5" y2="406.5"/>
<line x1="1210.4" y1="398" x2="1210.4" y2="406.5"/>
<line x1="1324.4" y1="398" x2="1324.4" y2="406.5"/>
<line x1="1442.3" y1="398" x2="1442.3" y2="406.5"/>
</g>
<text class="s" x="53.6" y="416.6" text-anchor="middle" textLength="47.4" lengthAdjust="spacingAndGlyphs">1 Jan 2011</text>
<text class="s" x="171.5" y="416.6" text-anchor="middle" textLength="22.8" lengthAdjust="spacingAndGlyphs">1 Feb</text>
<text class="s" x="277.9" y="416.6" text-anchor="middle" textLength="24.8" lengthAdjust="spacingAndGlyphs">1 Mar</text>
<text class="s" x="395.8" y="416.6" text-anchor="middle" textLength="23.6" lengthAdjust="spacingAndGlyphs">1 Apr</text>
<text class="s" x="509.9" y="416.6" text-anchor="middle" textLength="26.4" lengthAdjust="spacingAndGlyphs">1 May</text>
<text class="s" x="627.8" y="416.6" text-anchor="middle" textLength="23" lengthAdjust="spacingAndGlyphs">1 Jun</text>
<text class="s" x="741.9" y="416.6" text-anchor="middle" textLength="19.8" lengthAdjust="spacingAndGlyphs">1 Jul</text>
<text class="s" x="859.7" y="416.6" text-anchor="middle" textLength="24.8" lengthAdjust="spacingAndGlyphs">1 Aug</text>
<text class="s" x="977.6" y="416.6" text-anchor="middle" textLength="22.8" lengthAdjust="spacingAndGlyphs">1 Sep</text>
<text class="s" x="1091.7" y="416.6" text-anchor="middle" textLength="22.8" lengthAdjust="spacingAndGlyphs">1 Oct</text>
<text class="s" x="1209.6" y="416.6" text-anchor="middle" textLength="25.4" lengthAdjust="spacingAndGlyphs">1 Nov</text>
<text class="s" x="1323.6" y="416.6" text-anchor="middle" textLength="24" lengthAdjust="spacingAndGlyphs">1 Dec</text>
<text class="s" x="1441.5" y="416.6" text-anchor="middle" textLength="47.4" lengthAdjust="spacingAndGlyphs">1 Jan 2012</text>
<text class="l" transform="translate(42.9,83.9) rotate(-90)" text-anchor="middle" textLength="36.8" lengthAdjust="spacingAndGlyphs">extreme</text>
<text class="l" transform="translate(42.9,154.7) rotate(-90)" text-anchor="middle" textLength="40" lengthAdjust="spacingAndGlyphs">very high</text>
<text class="l" transform="translate(42.9,224.8) rotate(-90)" text-anchor="middle" textLength="18.7" lengthAdjust="spacingAndGlyphs">high</text>
<text class="l" transform="translate(42.9,295.7) rotate(-90)" text-anchor="middle" textLength="43.2" lengthAdjust="spacingAndGlyphs">moderate</text>
<text class="l" transform="translate(42.9,366.2) rotate(-90)" text-anchor="middle" textLength="16" lengthAdjust="spacingAndGlyphs">low</text>
<text transform="translate(28,225.3) rotate(-90)" text-anchor="middle" font-size="15.4" font-weight="bold" textLength="87.3" lengthAdjust="spacingAndGlyphs">Activity level</text>
<text transform="translate(1468.8,226) rotate(90)" text-anchor="middle" font-size="10.1" stroke="#000" stroke-width="0.2" textLength="98.3" lengthAdjust="spacingAndGlyphs">Combined magnitude</text>
<g class="n">
<text x="51.4" y="437.7" textLength="33.2" lengthAdjust="spacingAndGlyphs">Notes:</text>
</g>
<g class="n">
<text x="51.4" y="451.7" textLength="24.8" lengthAdjust="spacingAndGlyphs">Data</text>
<text x="80.0" y="451.7" textLength="60.2" lengthAdjust="spacingAndGlyphs">incomplete</text>
<text x="144.0" y="451.7" textLength="15.7" lengthAdjust="spacingAndGlyphs">for</text>
<text x="163.4" y="451.7" textLength="41.2" lengthAdjust="spacingAndGlyphs">smaller</text>
<text x="208.4" y="451.7" textLength="38.2" lengthAdjust="spacingAndGlyphs">quakes</text>
<text x="250.7" y="451.7" textLength="33.9" lengthAdjust="spacingAndGlyphs">(M&lt;4),</text>
<text x="288.0" y="451.7" textLength="24.0" lengthAdjust="spacingAndGlyphs">near</text>
<text x="316.3" y="451.7" textLength="49.0" lengthAdjust="spacingAndGlyphs">complete</text>
<text x="368.7" y="451.7" textLength="25.9" lengthAdjust="spacingAndGlyphs">from</text>
<text x="398.4" y="451.7" textLength="20.2" lengthAdjust="spacingAndGlyphs">M4.</text>
</g>
<g class="n">
<text x="51.4" y="467.4" textLength="33.9" lengthAdjust="spacingAndGlyphs">Quake</text>
<text x="89.4" y="467.4" textLength="26.6" lengthAdjust="spacingAndGlyphs">data:</text>
<text x="120.0" y="467.4" textLength="124.6" lengthAdjust="spacingAndGlyphs">www.volcanodiscovery</text>
<text x="245.4" y="467.4" textLength="28.6" lengthAdjust="spacingAndGlyphs">.com</text>
<text x="273.4" y="467.4" textLength="72.6" lengthAdjust="spacingAndGlyphs">/earthquakes</text>
<text x="345.4" y="467.4" textLength="36.6" lengthAdjust="spacingAndGlyphs">/today</text>
<text x="382.7" y="467.4" textLength="25.9" lengthAdjust="spacingAndGlyphs">.html</text>
</g>
<polygon points="1286,485 1308,469.2 1320.5,469.2 1340.8,485" fill="#000"/>
<text x="1304.3" y="466.3" font-size="22.6" font-weight="bold" textLength="119.6" lengthAdjust="spacingAndGlyphs" stroke="#000" stroke-width="1.2">VOLCANO</text>
<text x="1341.9" y="484.4" font-size="20.1" font-weight="bold" textLength="110.3" lengthAdjust="spacingAndGlyphs" style="fill:#c0161e;stroke:#c0161e;stroke-width:.3px">DISCOVERY</text>
</svg></body></html>
